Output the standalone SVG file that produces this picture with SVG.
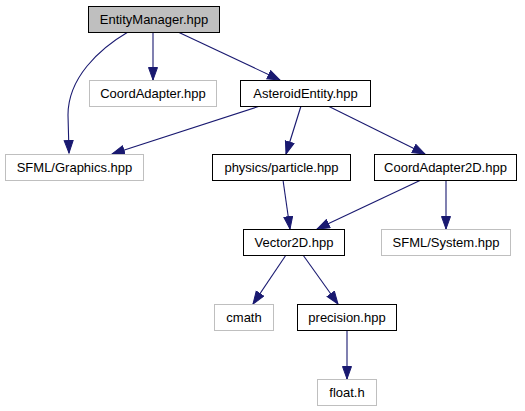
<svg xmlns="http://www.w3.org/2000/svg" width="525" height="411" viewBox="0 0 525 411">
<style>
rect{stroke-width:1}
.doc{fill:#ffffff;stroke:#000000}
.ext{fill:#ffffff;stroke:#bfbfbf}
.cur{fill:#bfbfbf;stroke:#000000}
text{font-family:"Liberation Sans",Arial,Helvetica,sans-serif;font-size:13px;text-anchor:middle;fill:#000000}
.e{fill:none;stroke:#191970;stroke-width:1.1;marker-end:url(#ah)}
</style>
<defs>
<marker id="ah" markerUnits="userSpaceOnUse" markerWidth="14" markerHeight="11" refX="13" refY="5" orient="auto">
<path d="M0.5,0.5 L13,5 L0.5,9.5 Z" fill="#191970" stroke="#191970" stroke-width="1"/>
</marker>
</defs>
<rect width="525" height="411" fill="#ffffff"/>
<g id="edges">
<path class="e" d="M128,32 C99,49 68,78 68,115 L69,153"/>
<path class="e" d="M153,32 L153,80"/>
<path class="e" d="M178,32 L280,80"/>
<path class="e" d="M260,106 L112,154"/>
<path class="e" d="M301,106 L286,154"/>
<path class="e" d="M328,106 L425,154"/>
<path class="e" d="M283,180 L290,229"/>
<path class="e" d="M421,180 L317,229"/>
<path class="e" d="M446,180 L446,229"/>
<path class="e" d="M286,255 L253,304"/>
<path class="e" d="M303,255 L338,304"/>
<path class="e" d="M347,330 L347,379"/>
</g>
<g id="EntityManager">
<rect class="cur" x="88.5" y="6.5" width="131" height="26"/>
<text x="154" y="24">EntityManager.hpp</text>
</g>
<g id="CoordAdapter">
<rect class="ext" x="89.5" y="80.5" width="127" height="26"/>
<text x="153" y="98">CoordAdapter.hpp</text>
</g>
<g id="AsteroidEntity">
<rect class="doc" x="240.5" y="80.5" width="130" height="26"/>
<text x="305.5" y="98">AsteroidEntity.hpp</text>
</g>
<g id="SFMLGraphics">
<rect class="ext" x="5.5" y="154.5" width="138" height="26"/>
<text x="74.5" y="172">SFML/Graphics.hpp</text>
</g>
<g id="particle">
<rect class="doc" x="212.5" y="154.5" width="138" height="26"/>
<text x="281.5" y="172">physics/particle.hpp</text>
</g>
<g id="CoordAdapter2D">
<rect class="doc" x="374.5" y="154.5" width="142" height="26"/>
<text x="445.5" y="172">CoordAdapter2D.hpp</text>
</g>
<g id="Vector2D">
<rect class="doc" x="243.5" y="229.5" width="101" height="26"/>
<text x="294" y="247">Vector2D.hpp</text>
</g>
<g id="SFMLSystem">
<rect class="ext" x="381.5" y="229.5" width="129" height="26"/>
<text x="446" y="247">SFML/System.hpp</text>
</g>
<g id="cmath">
<rect class="ext" x="214.5" y="304.5" width="59" height="26"/>
<text x="244" y="322">cmath</text>
</g>
<g id="precision">
<rect class="doc" x="297.5" y="304.5" width="99" height="26"/>
<text x="347" y="322">precision.hpp</text>
</g>
<g id="floath">
<rect class="ext" x="317.5" y="379.5" width="59" height="26"/>
<text x="347" y="397">float.h</text>
</g>
</svg>
